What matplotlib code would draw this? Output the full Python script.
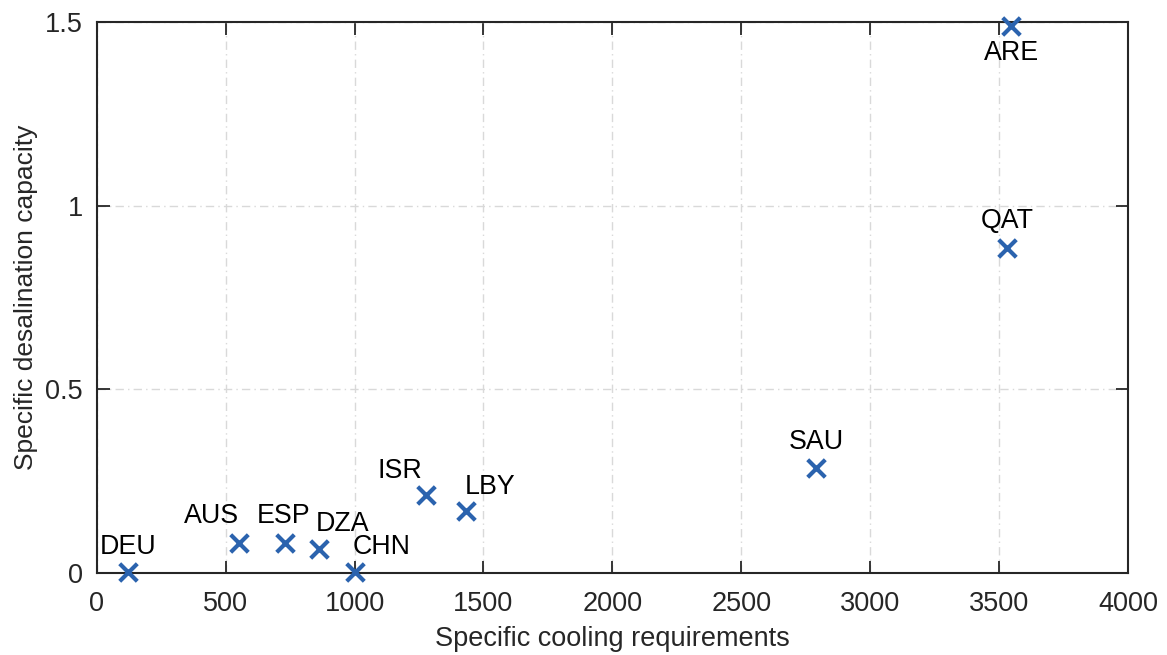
import matplotlib
matplotlib.use("Agg")
import matplotlib.pyplot as plt

countries = ["DEU", "AUS", "ESP", "DZA", "CHN", "ISR", "LBY", "SAU", "QAT", "ARE"]
cooling = [123, 551, 730, 862, 1002, 1277, 1432, 2790, 3530, 3547]
desal = [0.004, 0.082, 0.082, 0.065, 0.004, 0.213, 0.169, 0.286, 0.884, 1.489]
# label offsets in pixels (dx, dy)
offsets = [(0, 25), (-27, 27), (-1, 27), (24, 25), (26, 25), (-26, 24), (24, 24), (0, 26), (0, 27), (0, -27)]

plt.rcParams['font.family'] = ['Liberation Sans', 'DejaVu Sans']
fig = plt.figure(figsize=(11.67, 6.55), dpi=100)
ax = fig.add_axes([0.0829, 0.1247, 0.9666 - 0.0829, 0.9669 - 0.1247])

col = '#2b63ae'
ax.scatter(cooling, desal, marker='x', s=160, linewidths=3, color=col, zorder=5, clip_on=False)
for c, x, y, (dx, dy) in zip(countries, cooling, desal, offsets):
    ax.annotate(c, (x, y), xytext=(dx, dy), textcoords='offset pixels',
                ha='center', va='center', fontsize=19.3, color='black', zorder=6)

ax.set_xlim(0, 4000)
ax.set_ylim(0, 1.5)
ax.set_xticks([0, 500, 1000, 1500, 2000, 2500, 3000, 3500, 4000])
ax.set_yticks([0, 0.5, 1, 1.5])
ax.set_yticklabels(['0', '0.5', '1', '1.5'])
ax.grid(True, linestyle=(0, (6, 3, 1, 3)), color='#d9d9d9', linewidth=1)
ax.set_axisbelow(True)
ax.tick_params(direction='in', length=9, width=1.3, top=True, right=True,
               labelsize=19.5, colors='#262626')
ax.tick_params(axis='x', pad=13)
ax.tick_params(axis='y', pad=10)
for s in ax.spines.values():
    s.set_color('#262626')
    s.set_linewidth(1.5)
ax.set_xlabel('Specific cooling requirements', fontsize=19.5, color='#262626', labelpad=6)
ax.set_ylabel('Specific desalination capacity', fontsize=19, color='#262626', labelpad=5)

fig.savefig('out.png', dpi=100)
